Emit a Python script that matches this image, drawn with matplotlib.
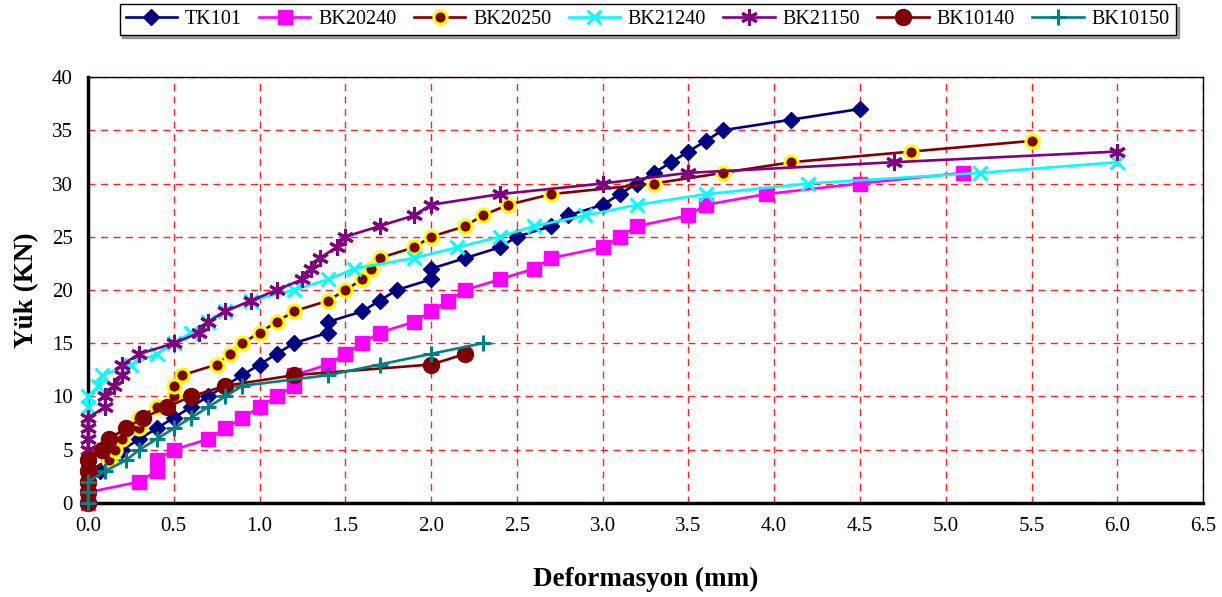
import matplotlib
matplotlib.use("Agg")
import matplotlib.pyplot as plt
from matplotlib.ticker import FormatStrFormatter

plt.rcParams['font.family'] = ['Liberation Serif', 'DejaVu Serif']

# ---- data ----
tk101_d = [0, 0, 0, 0.07, 0.12, 0.2, 0.3, 0.4, 0.5, 0.6, 0.7, 0.8, 0.9, 1.0, 1.1, 1.2,
           1.4, 1.4, 1.6, 1.7, 1.8, 2.0, 2.0, 2.2, 2.4, 2.5, 2.7, 2.8, 3.0, 3.1, 3.2,
           3.3, 3.4, 3.5, 3.6, 3.7, 4.1, 4.5]
tk101_l = list(range(0, 38))

bk20240_d = [0, 0, 0.3, 0.4, 0.4, 0.5, 0.7, 0.8, 0.9, 1.0, 1.1, 1.2, 1.2, 1.4, 1.5, 1.6,
             1.7, 1.9, 2.0, 2.1, 2.2, 2.4, 2.6, 2.7, 3.0, 3.1, 3.2, 3.5, 3.6, 3.95, 4.5, 5.1]
bk20240_l = list(range(0, 32))

bk20250_d = [0, 0, 0, 0, 0.12, 0.16, 0.2, 0.3, 0.3, 0.4, 0.5, 0.5, 0.55, 0.75, 0.83, 0.9,
             1.0, 1.1, 1.2, 1.4, 1.5, 1.6, 1.65, 1.7, 1.9, 2.0, 2.2, 2.3, 2.45, 2.7, 3.3,
             3.7, 4.1, 4.8, 5.5]
bk20250_l = list(range(0, 35))

bk21240_d = [0, 0, 0.06, 0.08, 0.25, 0.4, 0.5, 0.6, 0.7, 0.8, 0.95, 1.2, 1.4, 1.55, 1.9,
             2.15, 2.4, 2.6, 2.9, 3.2, 3.6, 4.2, 5.2, 6.0]
bk21240_l = list(range(9, 33))

bk21150_d = [0, 0, 0, 0, 0, 0, 0, 0, 0, 0.1, 0.1, 0.15, 0.2, 0.2, 0.3, 0.5, 0.65, 0.7, 0.8,
             0.95, 1.1, 1.25, 1.3, 1.35, 1.45, 1.5, 1.7, 1.9, 2.0, 2.4, 3.0, 3.5, 4.7, 6.0]
bk21150_l = list(range(0, 34))

bk10140_d = [0, 0, 0, 0, 0, 0.08, 0.12, 0.22, 0.32, 0.46, 0.6, 0.8, 1.2, 2.0, 2.2]
bk10140_l = list(range(0, 15))

bk10150_d = [0, 0, 0, 0.1, 0.22, 0.3, 0.4, 0.5, 0.6, 0.7, 0.8, 0.9, 1.4, 1.7, 2.0, 2.3]
bk10150_l = list(range(0, 16))

x_ticks = [0.0, 0.5, 1.0, 1.5, 2.0, 2.5, 3.0, 3.5, 4.0, 4.5, 5.0, 5.5, 6.0, 6.5]
y_ticks = [0, 5, 10, 15, 20, 25, 30, 35, 40]

# ---- figure ----
fig = plt.figure(figsize=(12.22, 5.97), dpi=100)
ax = fig.add_axes([0.072, 0.1575, 0.9125, 0.7135])

lw = 1.9
ax.plot(tk101_d, tk101_l, color='#000080', lw=lw, marker='D', ms=8.5,
        mec='#000080', mfc='#000080', label='TK101', clip_on=False, zorder=3)
ax.plot(bk20240_d, bk20240_l, color='#FF00FF', lw=lw, marker='s', ms=10,
        mec='#FF00FF', mfc='#FF00FF', label='BK20240', clip_on=False, zorder=3)
ax.plot(bk20250_d, bk20250_l, color='#800000', lw=lw, marker='o', ms=9.5,
        mec='#FFFF00', mfc='#800000', mew=2.2, label='BK20250', clip_on=False, zorder=3)
ax.plot(bk21240_d, bk21240_l, color='#00FFFF', lw=lw, marker='x', ms=10.5,
        mec='#00FFFF', mew=2.2, label='BK21240', clip_on=False, zorder=3)
ax.plot(bk21150_d, bk21150_l, color='#800080', lw=lw, marker=(6, 2, 0), ms=12,
        mec='#800080', mew=2.2, label='BK21150', clip_on=False, zorder=3)
ax.plot(bk10140_d, bk10140_l, color='#800000', lw=lw, marker='o', ms=11.5,
        mec='#800000', mfc='#800000', label='BK10140', clip_on=False, zorder=3)
ax.plot(bk10150_d, bk10150_l, color='#008080', lw=lw, marker='+', ms=11,
        mec='#008080', mew=2.2, label='BK10150', clip_on=False, zorder=3)

ax.set_xlim(0, 6.5)
ax.set_ylim(0, 40)
ax.set_xticks(x_ticks)
ax.set_yticks(y_ticks)
ax.xaxis.set_major_formatter(FormatStrFormatter('%.1f'))
ax.tick_params(axis='both', length=0, labelsize=15)
ax.tick_params(axis='x', pad=10)
ax.tick_params(axis='y', pad=11)

ax.grid(True, color='#FF2020', linestyle=(0, (5, 4)), linewidth=1.0, zorder=0)
ax.set_axisbelow(True)

for s in ['left', 'bottom']:
    ax.spines[s].set_linewidth(2.5)
    ax.spines[s].set_color('black')
for s in ['top', 'right']:
    ax.spines[s].set_linewidth(1.0)
    ax.spines[s].set_color('black')

ax.set_xlabel('Deformasyon (mm)', fontsize=19.5, fontweight='bold', labelpad=22)
ax.set_ylabel('Yük (KN)', fontsize=19.5, fontweight='bold', labelpad=9)

leg = fig.legend(loc='upper center', bbox_to_anchor=(0.530, 0.993), ncol=7,
                 fontsize=14.5, frameon=True, fancybox=False, shadow=True,
                 edgecolor='black', handlelength=2.55, columnspacing=0.85,
                 handletextpad=0.4, borderpad=0.3, borderaxespad=0.0)
leg.get_frame().set_linewidth(1.0)

fig.savefig('out.png', dpi=100)
